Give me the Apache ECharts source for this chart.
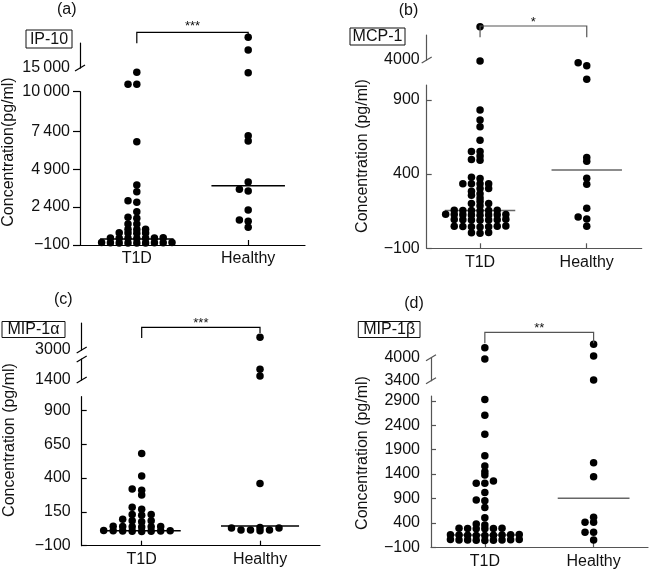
<!DOCTYPE html>
<html><head><meta charset="utf-8">
<script src="https://cdn.jsdelivr.net/npm/echarts@6/dist/echarts.min.js"></script>
<style>html,body{margin:0;padding:0;background:#fff}#c{width:649px;height:571px}</style>
</head><body><div id="c"></div>
<script>
// ---------------- DATA ----------------
const groups = ['T1D', 'Healthy'];

// (a) IP-10
const ip10_T1D = [25, 35, 45, 55, 65, 30, 40, 50, 60,
  330, 345, 360, 375, 350, 340, 365,
  680, 690, 700, 690,
  920, 930, 940,
  1284, 1290, 1660, 1725, 2095, 2714, 2819, 3413, 3854, 6707, 11740, 11740, 14140];
const ip10_Healthy = [1066, 1462, 1548, 2206, 3459, 3571, 4052, 6754, 7103, 14060, 18600, 21140];
const ip10_median = [295, 3808];
const ip10_ticks = [-100, 2400, 4900, 7400, 10000, 15000];

// (b) MCP-1
const mcp1_T1D = [2, 4, 6,
  45, 47, 49, 46, 48, 44, 50,
  90, 92, 94, 91, 93, 89, 95,
  124, 126, 128, 125, 127, 123, 129, 126,
  153, 155, 157, 154, 156, 155,
  187, 201, 201, 216,
  239, 257, 267, 284,
  303, 303, 335, 335, 335, 335, 370, 379,
  493, 499, 522, 552, 552,
  628, 719, 764, 832, 3880, 8000];
const mcp1_Healthy = [49, 97, 110, 169, 332, 372, 486, 511, 1684, 3316, 3676];
const mcp1_median = [155, 427];
const mcp1_ticks = [-100, 400, 900, 4000];

// (c) MIP-1alpha
const mip1a_T1D = [5, 6, 8, 9, 10, 11, 12, 7,
  38, 40, 42, 44, 39, 41,
  77, 84, 84, 95,
  124, 131, 131,
  170, 183, 274, 310, 318, 414, 581];
const mip1a_Healthy = [11, 16, 16, 16, 30, 30, 35, 360, 1515, 1705, 3470];
const mip1a_median = [10, 45];
const mip1a_ticks = [-100, 150, 400, 650, 900, 1400, 3000];

// (d) MIP-1beta
const mip1b_T1D = [40, 45, 50, 55, 60, 42, 48, 52, 58,
  140, 145, 150, 155, 160, 142, 148, 152, 158,
  280, 285, 290, 282, 288, 285,
  356, 377, 506, 718, 854, 868, 1025, 1210, 1210, 1257, 1379, 1447, 1564, 1774, 2218, 2607, 2928, 3966, 4261];
const mip1b_Healthy = [49, 207, 207, 412, 412, 514, 1345, 1631, 3418, 4044, 4350];
const mip1b_median = [152, 903];
const mip1b_ticks = [-100, 400, 900, 1400, 1900, 2400, 2900, 3400, 4000];

const significance = ['***', '*', '***', '**'];
const cytokines = ['IP-10', 'MCP-1', 'MIP-1\u03b1', 'MIP-1\u03b2'];
const panelTags = ['(a)', '(b)', '(c)', '(d)'];
const yTitles = ['Concentration(pg/ml)', 'Concentration (pg/ml)', 'Concentration (pg/ml)', 'Concentration (pg/ml)'];

// ---------------- LAYOUT ----------------
const FONT = '"Liberation Sans", Arial, Helvetica, sans-serif';
const panels = [
  { t1d: ip10_T1D, hc: ip10_Healthy, med: ip10_median, ticks: ip10_ticks,
    left: 80, right: 305, xMin: 0.49, xMax: 2.51,
    segs: [{min: -100, max: 10000, top: 91.7, bottom: 245}, {min: 15000, max: 20000, top: 43, bottom: 68}],
    slashes: [[1, 'bottom']], color: '#000', medColor: '#000', thin: true, tickOut: true, labelMargin: 10,
    col: 8.8, gap: 3.2, tag: [66.7, 10], box: [26, 30, 46, 18], yName: [9, 152],
    br: {y: 32.3, yl: 43.3, yr: 40, ty: 26} },
  { t1d: mcp1_T1D, hc: mcp1_Healthy, med: mcp1_median, ticks: mcp1_ticks,
    left: 426.7, right: 641.7, xMin: 0.5, xMax: 2.515,
    segs: [{min: -100, max: 1000, top: 85, bottom: 248.3}, {min: 4000, max: 7000, top: 35, bottom: 60}],
    slashes: [[1, 'bottom']], color: '#555', medColor: '#666', thin: false, tickOut: false, labelMargin: 7,
    col: 8.6, gap: 3.2, tag: [408.5, 11], box: [350, 28, 55, 17], yName: [362.5, 156],
    br: {y: 26, yl: 37.3, yr: 37.3, ty: 22} },
  { t1d: mip1a_T1D, hc: mip1a_Healthy, med: mip1a_median, ticks: mip1a_ticks,
    left: 81.7, right: 320, xMin: 0.493, xMax: 2.507,
    segs: [{min: -100, max: 1000, top: 396.7, bottom: 545.7}, {min: 1400, max: 2000, top: 359, bottom: 380},
           {min: 3000, max: 4000, top: 323, bottom: 350}],
    slashes: [[2, 'bottom'], [1, 'top'], [1, 'bottom']], color: '#000', medColor: '#000', thin: false, tickOut: false, labelMargin: 11,
    col: 9.5, gap: 3.2, tag: [63.3, 300], box: [2, 321.5, 63, 16], yName: [9.2, 440],
    br: {y: 327.3, yl: 338, yr: 333, ty: 323} },
  { t1d: mip1b_T1D, hc: mip1b_Healthy, med: mip1b_median, ticks: mip1b_ticks,
    left: 431, right: 648, xMin: 0.505, xMax: 2.5,
    segs: [{min: -100, max: 3000, top: 396, bottom: 547.3}, {min: 3400, max: 4000, top: 357.7, bottom: 380.7}],
    slashes: [[1, 'top'], [1, 'bottom']], color: '#555', medColor: '#666', thin: false, tickOut: false, labelMargin: 11,
    col: 8.6, gap: 3.2, tag: [414, 304], box: [358.3, 321.5, 61.7, 16], yName: [362.5, 453],
    br: {y: 332.3, yl: 343.3, yr: 343.3, ty: 328.5} }
];

function fmt(p) {
  return v => {
    const a = Math.abs(v);
    let s = String(a);
    if (p.thin && a >= 1000) s = s.slice(0, -3) + '\u2009' + s.slice(-3);
    return (v < 0 ? '\u2212' : '') + s;
  };
}

const chart = echarts.init(document.getElementById('c'), null, {renderer: 'canvas'});
const grids = [], xAxes = [], yAxes = [], series = [];

panels.forEach((p, pi) => {
  p.gridIdx = []; p.serIdx = [];
  p.segs.forEach((s, si) => {
    const gi = grids.length;
    p.gridIdx.push(gi);
    const base = si === 0;
    grids.push({left: p.left, top: s.top, width: p.right - p.left, height: s.bottom - s.top,
      containLabel: false, outerBoundsMode: 'none'});
    xAxes.push({type: 'value', gridIndex: gi, min: p.xMin, max: p.xMax, show: base,
      axisLine: {show: true, onZero: false, lineStyle: {color: p.color, width: 1.2}},
      axisTick: {show: true, inside: true, length: 5, customValues: [1, 2], lineStyle: {color: p.color, width: 1.2}},
      axisLabel: {customValues: [1, 2], formatter: v => groups[Math.round(v) - 1], margin: 6,
        fontSize: 16, fontFamily: FONT, color: '#111'},
      splitLine: {show: false}});
    const tv = p.ticks.filter(t => t >= s.min && t <= s.max);
    yAxes.push({type: 'value', gridIndex: gi, min: s.min, max: s.max,
      axisLine: {show: true, onZero: false, lineStyle: {color: p.color, width: 1.2}},
      axisTick: {show: base, inside: !p.tickOut, length: p.tickOut ? 7 : 5, customValues: tv,
        lineStyle: {color: p.color, width: 1.2}},
      axisLabel: {customValues: tv, formatter: fmt(p), margin: p.labelMargin,
        fontSize: 16, fontFamily: FONT, color: '#111'},
      splitLine: {show: false}});
    p.serIdx.push(series.length);
    series.push({type: 'scatter', xAxisIndex: gi, yAxisIndex: gi, clip: false, symbol: 'circle',
      symbolSize: 7.5, itemStyle: {color: '#000', opacity: 1}, data: [], z: 3, silent: true});
  });
  p.med.forEach((m, k) => series.push({type: 'line', xAxisIndex: p.gridIdx[0], yAxisIndex: p.gridIdx[0],
    data: [[k + 1 - 0.33, m], [k + 1 + 0.33, m]], symbol: 'none', clip: false,
    lineStyle: {color: p.medColor, width: 1.5}, z: 2, silent: true}));
});

const option = {animation: false, backgroundColor: '#fff', grid: grids, xAxis: xAxes, yAxis: yAxes, series: series};
chart.setOption(option);

// --- swarm layout (column-based, in pixel space via the axes) ---
const graphics = [];
panels.forEach((p, pi) => {
  const g0 = p.gridIdx[0];
  const px1 = chart.convertToPixel({xAxisIndex: g0, yAxisIndex: g0}, [1, 0])[0];
  const px2 = chart.convertToPixel({xAxisIndex: g0, yAxisIndex: g0}, [2, 0])[0];
  const unit = px2 - px1;
  [p.t1d, p.hc].forEach((vals, g) => {
    const pts = vals.map(v => {
      let si = p.segs.findIndex(s => v <= s.max);
      if (si < 0) si = p.segs.length - 1;
      const gi = p.gridIdx[si];
      const py = chart.convertToPixel({xAxisIndex: gi, yAxisIndex: gi}, [g + 1, v])[1];
      return {v, si, py};
    });
    pts.sort((a, b) => b.py - a.py);
    const placed = [];
    pts.forEach(pt => {
      for (let k = 0; k < 60; k++) {
        const c = k === 0 ? 0 : (k % 2 === 1 ? -Math.ceil(k / 2) : Math.ceil(k / 2));
        if (!placed.some(q => q.col === c && Math.abs(q.py - pt.py) < p.gap)) { pt.col = c; placed.push(pt); break; }
      }
      series[p.serIdx[pt.si]].data.push([g + 1 + pt.col * p.col / unit, pt.v]);
    });
  });

  // significance bracket
  const b = p.br;
  graphics.push({type: 'polyline', shape: {points: [[px1, b.yl], [px1, b.y], [px2, b.y], [px2, b.yr]]},
    style: {stroke: p.color, lineWidth: 1.2, fill: null}, z: 10, silent: true});
  graphics.push({type: 'text', x: (px1 + px2) / 2, y: b.ty, silent: true,
    style: {text: significance[pi], font: '13px ' + FONT, fill: '#111', align: 'center', verticalAlign: 'middle'}});
  // panel tag
  graphics.push({type: 'text', x: p.tag[0], y: p.tag[1], silent: true,
    style: {text: panelTags[pi], font: '16px ' + FONT, fill: '#111', align: 'center', verticalAlign: 'middle'}});
  // cytokine box
  const bx = p.box;
  graphics.push({type: 'rect', shape: {x: bx[0], y: bx[1], width: bx[2], height: bx[3]}, silent: true,
    style: {stroke: '#111', fill: '#fff', lineWidth: 1}});
  graphics.push({type: 'text', x: bx[0] + bx[2] / 2, y: bx[1] + bx[3] / 2 + 0.5, silent: true,
    style: {text: cytokines[pi], font: '16px ' + FONT, fill: '#111', align: 'center', verticalAlign: 'middle'}});
  // y-axis title
  graphics.push({type: 'text', x: p.yName[0], y: p.yName[1], rotation: Math.PI / 2, silent: true,
    style: {text: yTitles[pi], font: '16px ' + FONT, fill: '#111', align: 'center', verticalAlign: 'middle'}});
  // axis break marks
  p.slashes.forEach(([si, edge]) => {
    const s = p.segs[si];
    const y = edge === 'bottom' ? s.bottom : s.top;
    graphics.push({type: 'line', shape: {x1: p.left - 5, y1: y + 3, x2: p.left + 5, y2: y - 3}, silent: true,
      style: {stroke: p.color, lineWidth: 1.2}});
  });
});

option.graphic = graphics;
chart.setOption(option, true);
</script>
</body></html>
